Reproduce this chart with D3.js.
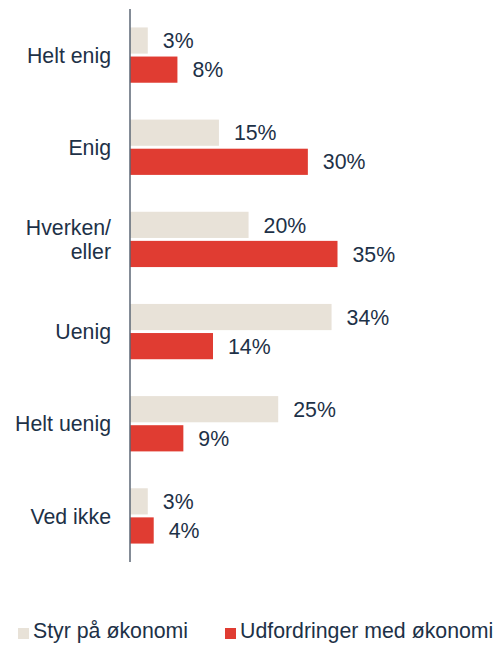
<!DOCTYPE html>
<html>
<head>
<meta charset="utf-8">
<script src="https://cdn.jsdelivr.net/npm/d3@7"></script>
<style>
  body { margin: 0; background: #fff; }
  svg { display: block; font-family: "Liberation Sans", Arial, sans-serif; }
</style>
</head>
<body>
<div id="chart"></div>
<script>
/////////////////////////////////////////////////////
///////////////////// Data //////////////////////////
/////////////////////////////////////////////////////

// Answer categories, top to bottom (lines split on "\n")
const categories = ["Helt enig", "Enig", "Hverken/\neller", "Uenig", "Helt uenig", "Ved ikke"];

// Series names (legend order)
const seriesNames = ["Styr på økonomi", "Udfordringer med økonomi"];

// Percent values per series, in category order
const styrValues = [3, 15, 20, 34, 25, 3];
const udfordringValues = [8, 30, 35, 14, 9, 4];

/////////////////////////////////////////////////////
///////////////////// Constants /////////////////////
/////////////////////////////////////////////////////

const width  = 502;
const height = 646;

const beige_color = '#e8e2d8';
const red_color   = '#e03c32';
const text_color  = '#1d3147';
const axis_color  = '#5b6675';
const fontSize    = 21.3;

const svg = d3.select("#chart")
  .append("svg")
  .attr("width", width)
  .attr("height", height);

// Value scale: 0% sits on the vertical axis line
const x = d3.scaleLinear()
  .domain([0, 35])
  .range([130, 337.5]);

// Outer band: one slot per category
const y = d3.scaleBand()
  .domain(categories)
  .range([9, 562])
  .paddingInner(0.4)
  .paddingOuter(0.2);

// Inner band: two bars per category
const ySub = d3.scaleBand()
  .domain(seriesNames)
  .range([0, y.bandwidth()])
  .paddingInner(0.1);

const color = d3.scaleOrdinal()
  .domain(seriesNames)
  .range([beige_color, red_color]);

const rows = categories.map((c, i) => ({
  category: c,
  values: [
    { series: seriesNames[0], value: styrValues[i] },
    { series: seriesNames[1], value: udfordringValues[i] }
  ]
}));

/////////////////////////////////////////////////////
///////////////////// Bars //////////////////////////
/////////////////////////////////////////////////////

const groups = svg.append("g").attr("class", "groups")
  .selectAll("g")
  .data(rows)
  .enter().append("g")
  .attr("transform", d => `translate(0,${y(d.category)})`);

groups.selectAll("rect")
  .data(d => d.values)
  .enter().append("rect")
  .attr("x", x(0))
  .attr("y", d => ySub(d.series))
  .attr("width", d => x(d.value) - x(0))
  .attr("height", ySub.bandwidth())
  .attr("fill", d => color(d.series));

// Value labels right of each bar
groups.selectAll("text.value")
  .data(d => d.values)
  .enter().append("text")
  .attr("class", "value")
  .attr("x", d => x(d.value) + 15)
  .attr("y", d => ySub(d.series) + ySub.bandwidth() / 2)
  .attr("dy", "0.36em")
  .style("font-size", fontSize + "px")
  .style("fill", text_color)
  .text(d => d.value + "%");

// Category labels, right aligned left of the axis
const catLabels = svg.append("g").attr("class", "cat-labels")
  .selectAll("text")
  .data(categories)
  .enter().append("text")
  .attr("text-anchor", "end")
  .attr("y", d => y(d) + y.bandwidth() / 2)
  .style("font-size", fontSize + "px")
  .style("fill", text_color);

catLabels.each(function(d) {
  const lines = d.split("\n");
  const lineHeight = 24;
  const offset = -(lines.length - 1) * lineHeight / 2;
  d3.select(this).selectAll("tspan")
    .data(lines)
    .enter().append("tspan")
    .attr("x", 111)
    .attr("dy", (l, i) => i === 0 ? (offset + 0.36 * fontSize) : lineHeight)
    .text(l => l);
});

// Vertical axis line
svg.append("line")
  .attr("x1", x(0)).attr("x2", x(0))
  .attr("y1", y.range()[0]).attr("y2", y.range()[1])
  .attr("stroke", axis_color)
  .attr("stroke-width", 1.5);

/////////////////////////////////////////////////////
///////////////////// Legend ////////////////////////
/////////////////////////////////////////////////////

const legendX = [18, 225];

const legend = svg.append("g").attr("class", "legend")
  .selectAll("g")
  .data(seriesNames)
  .enter().append("g")
  .attr("transform", (d, i) => `translate(${legendX[i]},628)`);

legend.append("rect")
  .attr("width", 11)
  .attr("height", 11)
  .attr("fill", d => color(d));

legend.append("text")
  .attr("x", 15)
  .attr("y", 10)
  .style("font-size", fontSize + "px")
  .style("fill", text_color)
  .text(d => d);
</script>
</body>
</html>
